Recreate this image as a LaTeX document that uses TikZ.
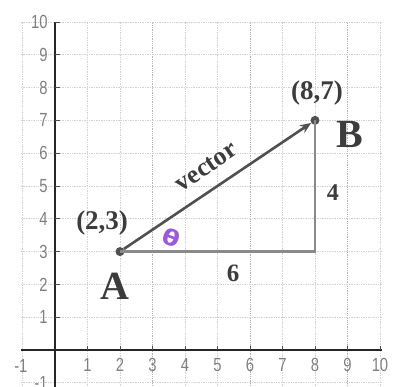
\documentclass[tikz,border=0pt]{standalone}
\usepackage{fontspec}
\setmainfont{Liberation Serif}
\newfontfamily\tickfont[FakeStretch=0.78]{Liberation Sans}
\newfontfamily\thetafont{DejaVu Sans}
\usetikzlibrary{arrows.meta}
\definecolor{lblgray}{HTML}{3C3C3C}
\definecolor{tickgray}{HTML}{808080}
\definecolor{sidegray}{HTML}{8A8A8A}
\definecolor{vecgray}{HTML}{505050}
\definecolor{thetapurple}{HTML}{9A5BD6}
\begin{document}
\begin{tikzpicture}[x=32.5pt,y=32.8pt,
  gridline/.style={draw=gray!35, densely dotted, line width=0.7pt},
  gridmajor/.style={draw=gray!60, densely dotted, line width=0.8pt},
  axisline/.style={draw=black!85, line width=1.8pt},
  tickmark/.style={draw=black!70, line width=0.8pt},
  ticklbl/.style={font=\tickfont\fontsize{19}{19}\selectfont, text=tickgray, inner sep=0pt},
  lbl/.style={font=\bfseries\fontsize{27}{27}\selectfont, text=lblgray, inner sep=0pt},
  biglbl/.style={font=\bfseries\fontsize{40}{40}\selectfont, text=lblgray, inner sep=0pt},
  dot/.style={circle, fill=vecgray, inner sep=0pt, minimum size=9pt},
  side/.style={draw=sidegray, line width=2.6pt},
  vec/.style={draw=vecgray, line width=2.6pt, -{Stealth[length=11pt,width=9pt]}}]
\useasboundingbox (-1.692,-1.128) rectangle (10.677,10.67);
% grid
\foreach \i in {1,2,4,5,7,8,10} {\draw[gridline] (\i,-1.2) -- (\i,10);}
\foreach \i in {3,6,9} {\draw[gridmajor] (\i,-1.2) -- (\i,10);}
\foreach \j in {-1,1,2,...,10} {\draw[gridline] (-1.05,\j) -- (10.05,\j);}
\draw[gridline] (-1,-1.2) -- (-1,10);
% axes
\draw[axisline] (-1.05,0) -- (10.05,0);
\draw[axisline] (0,-1.2) -- (0,10);
\foreach \i in {1,...,10} {\draw[tickmark] (\i,0) -- (\i,0.13);}
\foreach \j in {1,...,10} {\draw[tickmark] (0,\j) -- (0.15,\j);}
% tick labels
\foreach \i in {1,...,10} {\node[ticklbl] (x\i) at (\i,-0.46) {\i};}
\node[ticklbl] (xm1) at (-1.05,-0.48) {-1};
\foreach \j in {1,...,10} {\node[ticklbl, anchor=east] (y\j) at (-0.22,\j) {\j};}
\node[ticklbl, anchor=east] (ym1) at (-0.22,-1.02) {-1};
% points
\node[dot] (A) at (2,3) {};
\node[dot] (B) at (8,7) {};
\coordinate (C) at (8,3);
\draw[side, line join=miter] (A.center) -- (C) -- (B.center);
\draw[vec] (A) -- (B);
% labels
\node[lbl] (pA) at (1.45,3.87) {(2,3)};
\node[lbl] (pB) at (8.06,7.84) {(8,7)};
\node[biglbl] (nA) at (1.85,1.95) {A};
\node[biglbl] (nB) at (9.07,6.58) {B};
\node[lbl, font=\bfseries\fontsize{25}{25}\selectfont] (six) at (5.48,2.35) {6};
\node[lbl, font=\bfseries\fontsize{24}{24}\selectfont] (four) at (8.55,4.8) {4};
\node[lbl, font=\bfseries\fontsize{26}{26}\selectfont, rotate=34] (vl) at (4.66,5.58) {vector};
\node[font=\thetafont\bfseries\fontsize{22}{22}\selectfont, text=thetapurple, inner sep=0pt, rotate=-20, xscale=1.15] (th) at (3.57,3.41) {θ};
\end{tikzpicture}
\end{document}
